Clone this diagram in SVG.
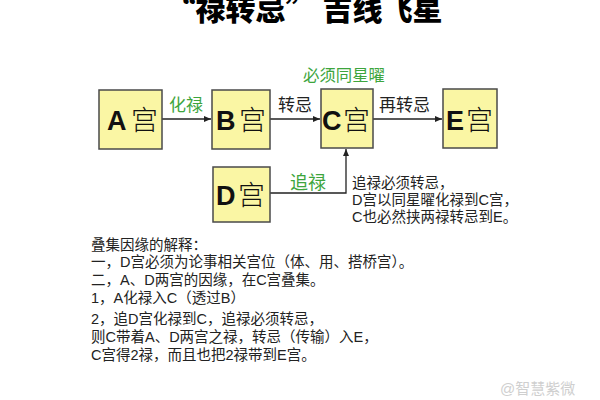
<svg xmlns="http://www.w3.org/2000/svg" width="600" height="400" viewBox="0 0 600 400">
<defs>
<marker id="ah" markerWidth="8" markerHeight="8" refX="7" refY="4" orient="auto" markerUnits="userSpaceOnUse">
<path d="M0,1 L7,4 L0,7 Z" fill="#222"/>
</marker>
<style>
.box{fill:#FAF6A4;stroke:#4a4a4a;stroke-width:1.5}
.lt{font-family:"Liberation Sans",Arial,sans-serif;font-weight:bold;font-size:27px;fill:#111}
.gong{font-family:"Noto Sans CJK SC",sans-serif;font-weight:300;font-size:27px;fill:#111}
.lbl{font-family:"Liberation Sans","Noto Sans CJK SC",sans-serif;font-size:17px;fill:#222}
.grn{fill:#3da53d}
.txt{font-family:"Liberation Sans","Noto Sans CJK SC",sans-serif;font-size:14.5px;fill:#222}
.conn{fill:none;stroke:#222;stroke-width:1.3}
</style>
</defs>
<rect width="600" height="400" fill="#fff"/>
<text x="304" y="20" text-anchor="middle" font-family="Noto Sans CJK SC,sans-serif" font-weight="900" font-size="30" fill="#000">“禄转忌” 吉线飞星</text>

<g id="connectors">
<line class="conn" x1="162" y1="119" x2="211" y2="119" marker-end="url(#ah)"/>
<line class="conn" x1="270" y1="119" x2="320" y2="119" marker-end="url(#ah)"/>
<line class="conn" x1="373" y1="119" x2="442" y2="119" marker-end="url(#ah)"/>
<path class="conn" d="M270,193 H346 V149" marker-end="url(#ah)"/>
<text class="lbl grn" x="169" y="111">化禄</text>
<text class="lbl" x="278" y="111">转忌</text>
<text class="lbl" x="379" y="111">再转忌</text>
<text class="lbl grn" x="303" y="81" style="font-size:16.4px">必须同星曜</text>
<text class="lbl grn" x="290" y="189" style="font-size:18px">追禄</text>
</g>

<g id="nodeA"><rect class="box" x="99" y="90" width="63" height="59"/><text class="lt" x="107" y="130">A</text><text class="gong" x="131" y="130">宫</text></g>
<g id="nodeB"><rect class="box" x="212" y="90" width="58" height="59"/><text class="lt" x="216" y="130">B</text><text class="gong" x="239" y="130">宫</text></g>
<g id="nodeC"><rect class="box" x="321" y="89" width="52" height="59"/><text class="lt" x="322" y="130">C</text><text class="gong" x="343" y="130">宫</text></g>
<g id="nodeE"><rect class="box" x="443" y="89" width="54" height="59"/><text class="lt" x="446" y="130">E</text><text class="gong" x="466" y="130">宫</text></g>
<g id="nodeD"><rect class="box" x="213" y="167" width="57" height="55"/><text class="lt" x="216" y="205">D</text><text class="gong" x="238" y="205">宫</text></g>

<g id="note">
<text class="txt" x="352" y="188">追禄必须转忌，</text>
<text class="txt" x="352" y="205">D宫以同星曜化禄到C宫，</text>
<text class="txt" x="352" y="222">C也必然挟两禄转忌到E。</text>
</g>

<g id="explain">
<text class="txt" x="91" y="250">叠集因缘的解释：</text>
<text class="txt" x="91" y="267">一，D宫必须为论事相关宫位（体、用、搭桥宫）。</text>
<text class="txt" x="91" y="285">二，A、D两宫的因缘，在C宫叠集。</text>
<text class="txt" x="91" y="303">1，A化禄入C（透过B）</text>
<text class="txt" x="91" y="324">2，追D宫化禄到C，追禄必须转忌，</text>
<text class="txt" x="91" y="342">则C带着A、D两宫之禄，转忌（传输）入E，</text>
<text class="txt" x="91" y="360">C宫得2禄，而且也把2禄带到E宫。</text>
</g>
<text x="500" y="394" font-family="Liberation Sans,Noto Sans CJK SC,sans-serif" font-size="15" fill="#cfcfcf">@智慧紫微</text>
</svg>
